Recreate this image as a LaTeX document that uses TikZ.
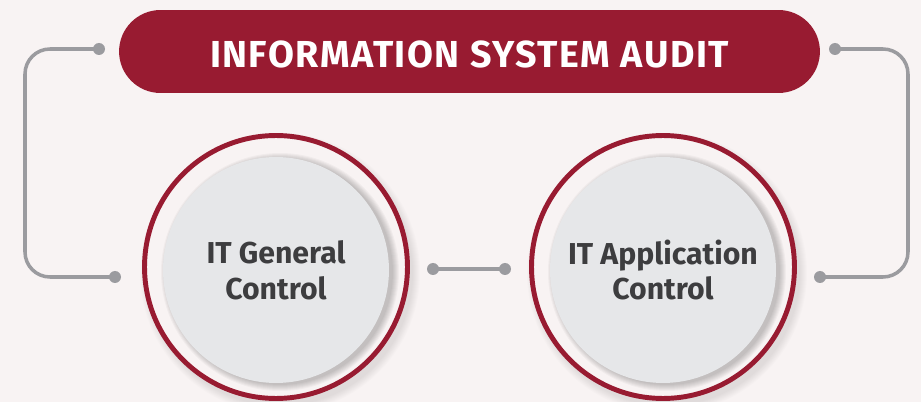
\documentclass[tikz,border=0pt]{standalone}
\usepackage{fontspec}
\setmainfont{Fira Sans}
\usetikzlibrary{positioning}

\definecolor{auditred}{HTML}{981B31}
\definecolor{pagebg}{HTML}{F8F3F3}
\definecolor{wiregray}{HTML}{9B9B9F}
\definecolor{discgray}{HTML}{E6E7E9}
\definecolor{labelgray}{HTML}{3D3D3F}

\tikzset{
  titlebox/.style={fill=auditred, rounded corners=0.83cm, minimum width=14.02cm,
    minimum height=1.66cm, text height=0.66cm, text=white,
    font=\fontsize{21.4}{24}\selectfont\bfseries\addfontfeature{LetterSpace=4}},
  ringbox/.style={circle, draw=auditred, fill=pagebg, line width=2.8pt, minimum size=5.26cm},
  discbox/.style={circle, fill=discgray, minimum size=4.52cm, align=center,
    text=labelgray, font=\fontsize{17.2}{20.4}\selectfont\bfseries},
  wire/.style={wiregray, line width=2pt, rounded corners=0.5cm},
}

\begin{document}
\begin{tikzpicture}[x=0.02cm, y=-0.02cm]
  \fill[pagebg] (0,0) rectangle (921,402);
  \useasboundingbox (0,0) rectangle (921,402);

  \node[titlebox] (audit) at (469.5,51.5) {INFORMATION SYSTEM AUDIT};

  % the two control circles
  \foreach \cx/\name/\txt in {276/gen/{IT General\\Control}, 663/app/{IT Application\\Control}}{
    \foreach \k in {1,...,8}
      \fill[black, opacity=0.012] (\cx+4,273) circle[radius=132+\k];
    \node[ringbox] (\name ring) at (\cx,267) {};
    \foreach \k in {1,...,7}
      \fill[black, opacity=0.03] (\cx+4,272) circle[radius=112+\k];
    \node[discbox] (\name) at (\cx,270) {\txt};
  }

  % connector ends
  \coordinate (tl) at (99,49);
  \coordinate (tr) at (835,49);
  \coordinate (gl) at (115,277);
  \coordinate (gr) at (433,269);
  \coordinate (al) at (505,269);
  \coordinate (ar) at (820,277);

  \draw[wire] (tl) -- ++(-74,0) |- (gl);
  \draw[wire] (tr) -- ++(73,0) |- (ar);
  \draw[wire] (gr) -- (al);
  \foreach \p in {tl,tr,gl,gr,al,ar}
    \fill[wiregray] (\p) circle[radius=6];
\end{tikzpicture}
\end{document}
